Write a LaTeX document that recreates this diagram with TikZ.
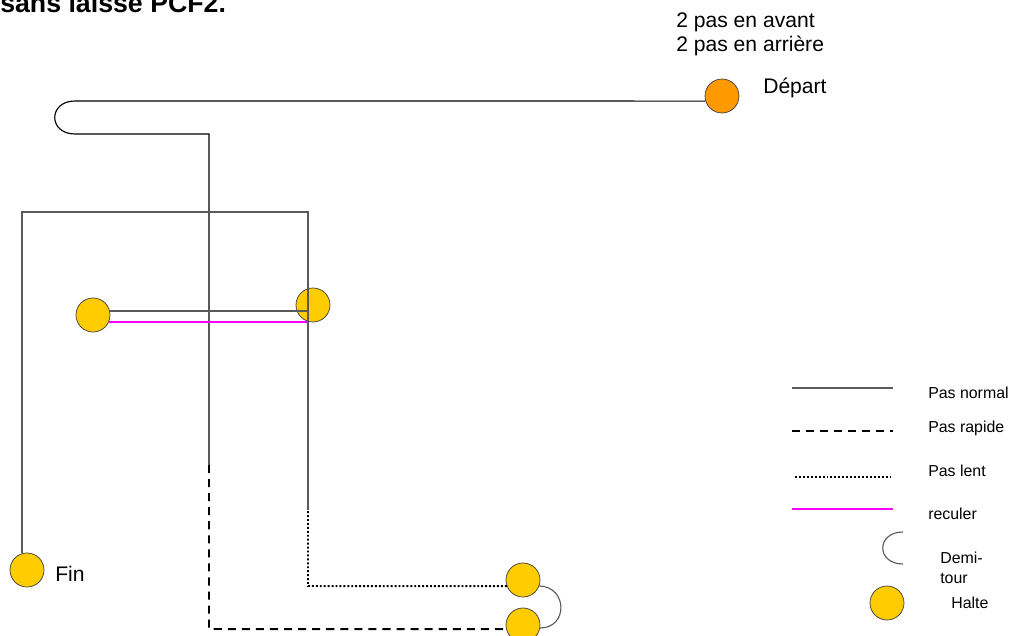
\documentclass[tikz,border=0pt]{standalone}
\usepackage{fontspec}
\setmainfont{Liberation Sans}
\definecolor{halteYellow}{RGB}{255,204,0}
\definecolor{departOrange}{RGB}{255,153,0}
\definecolor{circleEdge}{RGB}{60,60,60}
\definecolor{pathGray}{RGB}{90,90,90}
\definecolor{reculerPink}{RGB}{255,0,255}

\begin{document}
\begin{tikzpicture}[x=0.025cm, y=-0.025cm,
    halte/.style={circle, draw=circleEdge, line width=0.5pt, fill=halteYellow, minimum size=0.85cm, inner sep=0pt},
    pasnormal/.style={draw=black, line width=0.8pt},
    pasgris/.style={draw=pathGray, line width=1.1pt},
    pasrapide/.style={draw=black, line width=1.4pt, dash pattern=on 5.7pt off 4.3pt},
    paslent/.style={draw=black, line width=1.4pt, dash pattern=on 1.4pt off 1.4pt},
    reculer/.style={draw=reculerPink, line width=1.4pt},
    demitour/.style={draw=pathGray, line width=0.8pt},
    texte/.style={anchor=base west, inner sep=0pt, font=\fontsize{15}{18}\selectfont},
    legende/.style={anchor=base west, inner sep=0pt, font=\fontsize{11.3}{14}\selectfont}]
\useasboundingbox (0,0) rectangle (1013,636);
\clip (0,0) rectangle (1013,636);

% titre (coupe en haut)
\node[anchor=base west, inner sep=0pt, font=\bfseries\fontsize{19}{19}\selectfont] (titre) at (0,13) {sans laisse PCF2.};
\node[texte] (avant) at (676,28) {2 pas en avant};
\node[texte] (arriere) at (676,52) {2 pas en arri\`ere};

% haltes
\node[halte, fill=departOrange] (depart) at (722,96) {};
\node[texte] (departTxt) at (763,94) {D\'epart};
\node[halte] (halteA) at (93,315) {};
\node[halte] (halteB) at (313,305) {};
\node[halte] (halteC) at (523,580) {};
\node[halte] (halteD) at (523,625) {};
\node[halte] (fin) at (27,570) {};
\node[texte] (finTxt) at (55,581) {Fin};

% coins du parcours
\coordinate (turnTop) at (75,101);
\coordinate (turnBottom) at (75,134);
\coordinate (downCorner) at (209,134);
\coordinate (fastStart) at (209,465);
\coordinate (fastCorner) at (209,629);
\coordinate (cornerTL) at (22,212);
\coordinate (cornerTR) at (308,212);
\coordinate (slowStart) at (308,510);
\coordinate (slowCorner) at (308,586);

% parcours
\draw[pasnormal] (depart.197) -- (turnTop) .. controls (48,101) and (48,134) .. (turnBottom) -- (downCorner) -- (fastStart);
\draw[pasrapide] (fastStart) -- (fastCorner) -- (halteD.194);
\draw[demitour] (halteD.-10) .. controls (568,628) and (568,587) .. (halteC.-20);
\draw[paslent] (halteC.201) -- (slowCorner) -- (slowStart);
\draw[pasgris] (slowStart) -- (cornerTR) -- (cornerTL) -- (cornerTL |- fin.north);
\draw[pasgris] (halteA.14) -- (halteA.14 -| cornerTR);
\draw[reculer] (halteA.-24) -- (halteA.-24 -| halteB.250);

% legende
\draw[pasgris] (792,388) -- (893,388);
\node[legende] (lgNormal) at (928,398) {Pas normal};
\draw[pasrapide] (792,431) -- (893,431);
\node[legende] (lgRapide) at (928,432) {Pas rapide};
\draw[paslent] (795,477) -- (893,477);
\node[legende] (lgLent) at (928,476) {Pas lent};
\draw[reculer] (792,509) -- (893,509);
\node[legende] (lgReculer) at (928,519) {reculer};
\draw[demitour] (903,532) .. controls (876,532) and (876,564) .. (903,564);
\node[legende] (lgDemi) at (940,563) {Demi-};
\node[legende] (lgTour) at (940,583) {tour};
\node[halte] (lgHalte) at (887,603) {};
\node[legende] (lgHalteTxt) at (951,608) {Halte};
\end{tikzpicture}
\end{document}
